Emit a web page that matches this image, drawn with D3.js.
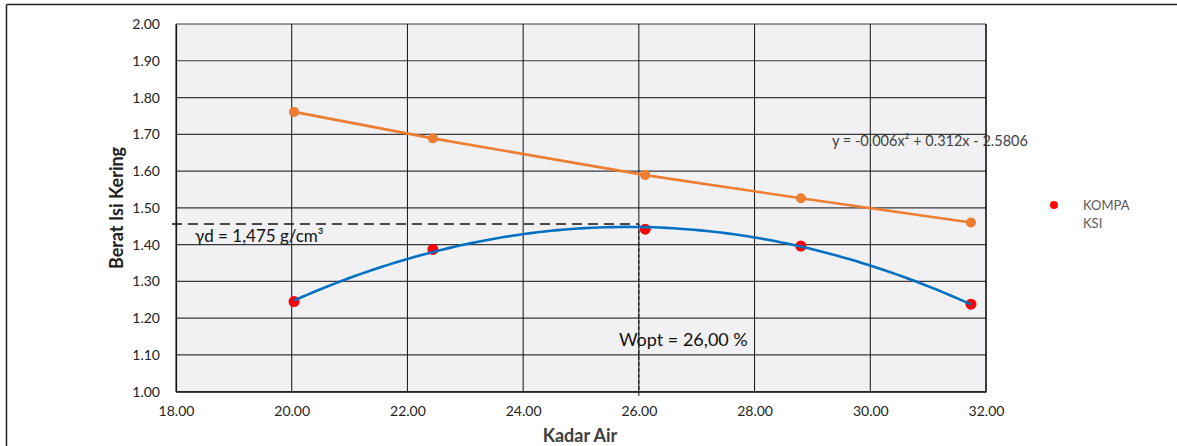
<!DOCTYPE html>
<html lang="id">
<head>
<meta charset="utf-8">
<title>Kompaksi</title>
<script src="https://d3js.org/d3.v7.min.js"></script>
<style>
  html, body { margin: 0; background: #fff; overflow: hidden; }
  svg { display: block; }
  text { font-family: Lato, "Liberation Sans", sans-serif; }
</style>
</head>
<body>
<script>
// data
var kadarAir = [20.04, 22.44, 26.11, 28.80, 31.74];
var beratKering = [1.761, 1.689, 1.589, 1.526, 1.460];   // orange series
var beratKompaksi = [1.245, 1.387, 1.442, 1.396, 1.238]; // red points (KOMPAKSI)
var xTicks = [18, 20, 22, 24, 26, 28, 30, 32];
var yTicks = [1.0, 1.1, 1.2, 1.3, 1.4, 1.5, 1.6, 1.7, 1.8, 1.9, 2.0];
var gammaLine = 1.456, wOpt = 26.0;
var gammaLabel = "\u03b3d = 1,475 g/cm\u00b3";
var woptLabel = "Wopt = 26,00 %";
var eqLabel = "y = -0.006x\u00b2 + 0.312x - 2.5806";
var legendLabel = ["KOMPA", "KSI"];

var W = 1177, H = 446;
var plot = {left: 176, top: 24, right: 986, bottom: 391.7};

var svg = d3.select("body").append("svg")
    .attr("width", W).attr("height", H);

// outer chart frame, only top and left edges fall inside the picture
svg.append("line").attr("x1", 6.5).attr("x2", W).attr("y1", 4.5).attr("y2", 4.5)
   .attr("stroke", "#222").attr("stroke-width", 1.5);
svg.append("line").attr("x1", 6.5).attr("x2", 6.5).attr("y1", 4.5).attr("y2", H)
   .attr("stroke", "#222").attr("stroke-width", 1.5);

var x = d3.scaleLinear().domain([18, 32]).range([plot.left, plot.right]);
var y = d3.scaleLinear().domain([1, 2]).range([plot.bottom, plot.top]);

svg.append("rect")
   .attr("x", plot.left).attr("y", plot.top)
   .attr("width", plot.right - plot.left).attr("height", plot.bottom - plot.top)
   .attr("fill", "#f1f1f4");

// gridlines
svg.append("g").selectAll("line").data(yTicks).enter().append("line")
   .attr("x1", plot.left).attr("x2", plot.right)
   .attr("y1", function(d){ return y(d); }).attr("y2", function(d){ return y(d); })
   .attr("stroke", "#3a3a3a").attr("stroke-width", 1.2);
svg.append("g").selectAll("line").data(xTicks).enter().append("line")
   .attr("x1", function(d){ return x(d); }).attr("x2", function(d){ return x(d); })
   .attr("y1", plot.top).attr("y2", plot.bottom)
   .attr("stroke", "#111").attr("stroke-width", 1);

// axes
var xAxis = svg.append("g").attr("transform", "translate(0," + plot.bottom + ")")
   .call(d3.axisBottom(x).tickValues(xTicks).tickSize(0).tickPadding(14).tickFormat(d3.format(".2f")));
var yAxis = svg.append("g").attr("transform", "translate(" + plot.left + ",0)")
   .call(d3.axisLeft(y).tickValues(yTicks).tickSize(0).tickPadding(16).tickFormat(d3.format(".2f")));
[xAxis, yAxis].forEach(function(a){
  a.select(".domain").attr("stroke", "#111").attr("stroke-width", 1.2);
  a.selectAll("text").attr("font-family", "Lato, sans-serif").attr("font-size", 14).attr("fill", "#222");
});

// dashed guide lines
svg.append("line")
   .attr("x1", plot.left - 4).attr("x2", x(wOpt))
   .attr("y1", y(gammaLine)).attr("y2", y(gammaLine))
   .attr("stroke", "#111").attr("stroke-width", 1.6).attr("stroke-dasharray", "10,6");
svg.append("line")
   .attr("x1", x(wOpt)).attr("x2", x(wOpt))
   .attr("y1", y(gammaLine)).attr("y2", plot.bottom + 5)
   .attr("stroke", "#111").attr("stroke-width", 1).attr("stroke-dasharray", "4,2");

// orange series
var pts = kadarAir.map(function(d, i){ return [d, beratKering[i]]; });
svg.append("path").datum(pts)
   .attr("d", d3.line().x(function(d){ return x(d[0]); }).y(function(d){ return y(d[1]); }))
   .attr("fill", "none").attr("stroke", "#ED7D31").attr("stroke-width", 2.6);
svg.append("g").selectAll("circle").data(pts).enter().append("circle")
   .attr("cx", function(d){ return x(d[0]); }).attr("cy", function(d){ return y(d[1]); })
   .attr("r", 5).attr("fill", "#ED7D31");

// polynomial (2nd order) trendline fitted to the red points
function quadFit(xs, ys) {
  var n = xs.length, s = [0,0,0,0,0], t = [0,0,0];
  for (var i = 0; i < n; i++) {
    var p = 1;
    for (var k = 0; k < 5; k++) { s[k] += p; if (k < 3) t[k] += p * ys[i]; p *= xs[i]; }
  }
  var A = [[s[0], s[1], s[2], t[0]], [s[1], s[2], s[3], t[1]], [s[2], s[3], s[4], t[2]]];
  for (var c = 0; c < 3; c++) {
    for (var r = c + 1; r < 3; r++) {
      var f = A[r][c] / A[c][c];
      for (var m = c; m < 4; m++) A[r][m] -= f * A[c][m];
    }
  }
  var b = [0,0,0];
  for (var r2 = 2; r2 >= 0; r2--) {
    var v = A[r2][3];
    for (var m2 = r2 + 1; m2 < 3; m2++) v -= A[r2][m2] * b[m2];
    b[r2] = v / A[r2][r2];
  }
  return function(xv){ return b[0] + b[1] * xv + b[2] * xv * xv; };
}
var fit = quadFit(kadarAir, beratKompaksi);
var xMin = d3.min(kadarAir), xMax = d3.max(kadarAir);
var fitPts = d3.range(0, 101).map(function(i){ var xv = xMin + (xMax - xMin) * i / 100; return [xv, fit(xv)]; });

var redPts = kadarAir.map(function(d, i){ return [d, beratKompaksi[i]]; });
svg.append("g").selectAll("circle").data(redPts).enter().append("circle")
   .attr("cx", function(d){ return x(d[0]); }).attr("cy", function(d){ return y(d[1]); })
   .attr("r", 5.5).attr("fill", "#FF0000");
svg.append("path").datum(fitPts)
   .attr("d", d3.line().x(function(d){ return x(d[0]); }).y(function(d){ return y(d[1]); }))
   .attr("fill", "none").attr("stroke", "#0070C0").attr("stroke-width", 2.6);

// plot border (right side)
svg.append("line").attr("x1", plot.right).attr("x2", plot.right)
   .attr("y1", plot.top).attr("y2", plot.bottom).attr("stroke", "#111").attr("stroke-width", 1.2);

// annotations
svg.append("text").attr("x", 195).attr("y", 242)
   .attr("font-family", "'Liberation Sans', Arial, sans-serif").attr("font-size", 17).attr("fill", "#111")
   .text(gammaLabel);
svg.append("text").attr("x", 619).attr("y", 346)
   .attr("font-family", "'Liberation Sans', Arial, sans-serif").attr("font-size", 18).attr("fill", "#111")
   .text(woptLabel);
svg.append("text").attr("x", 832).attr("y", 146)
   .attr("font-size", 14.5).attr("fill", "#404040")
   .text(eqLabel);

// legend
svg.append("circle").attr("cx", 1054).attr("cy", 205).attr("r", 4).attr("fill", "#FF0000");
svg.append("text").attr("x", 1083).attr("y", 210).attr("font-size", 13).attr("fill", "#595959").text(legendLabel[0]);
svg.append("text").attr("x", 1083).attr("y", 228).attr("font-size", 13).attr("fill", "#595959").text(legendLabel[1]);

// axis titles
svg.append("text").attr("x", 580).attr("y", 442).attr("text-anchor", "middle")
   .attr("font-size", 18).attr("font-weight", "bold").attr("fill", "#404040").text("Kadar Air");
svg.append("text").attr("transform", "translate(123,208) rotate(-90)").attr("text-anchor", "middle")
   .attr("font-size", 18).attr("font-weight", "bold").attr("fill", "#222").text("Berat Isi Kering");
</script>
</body>
</html>
